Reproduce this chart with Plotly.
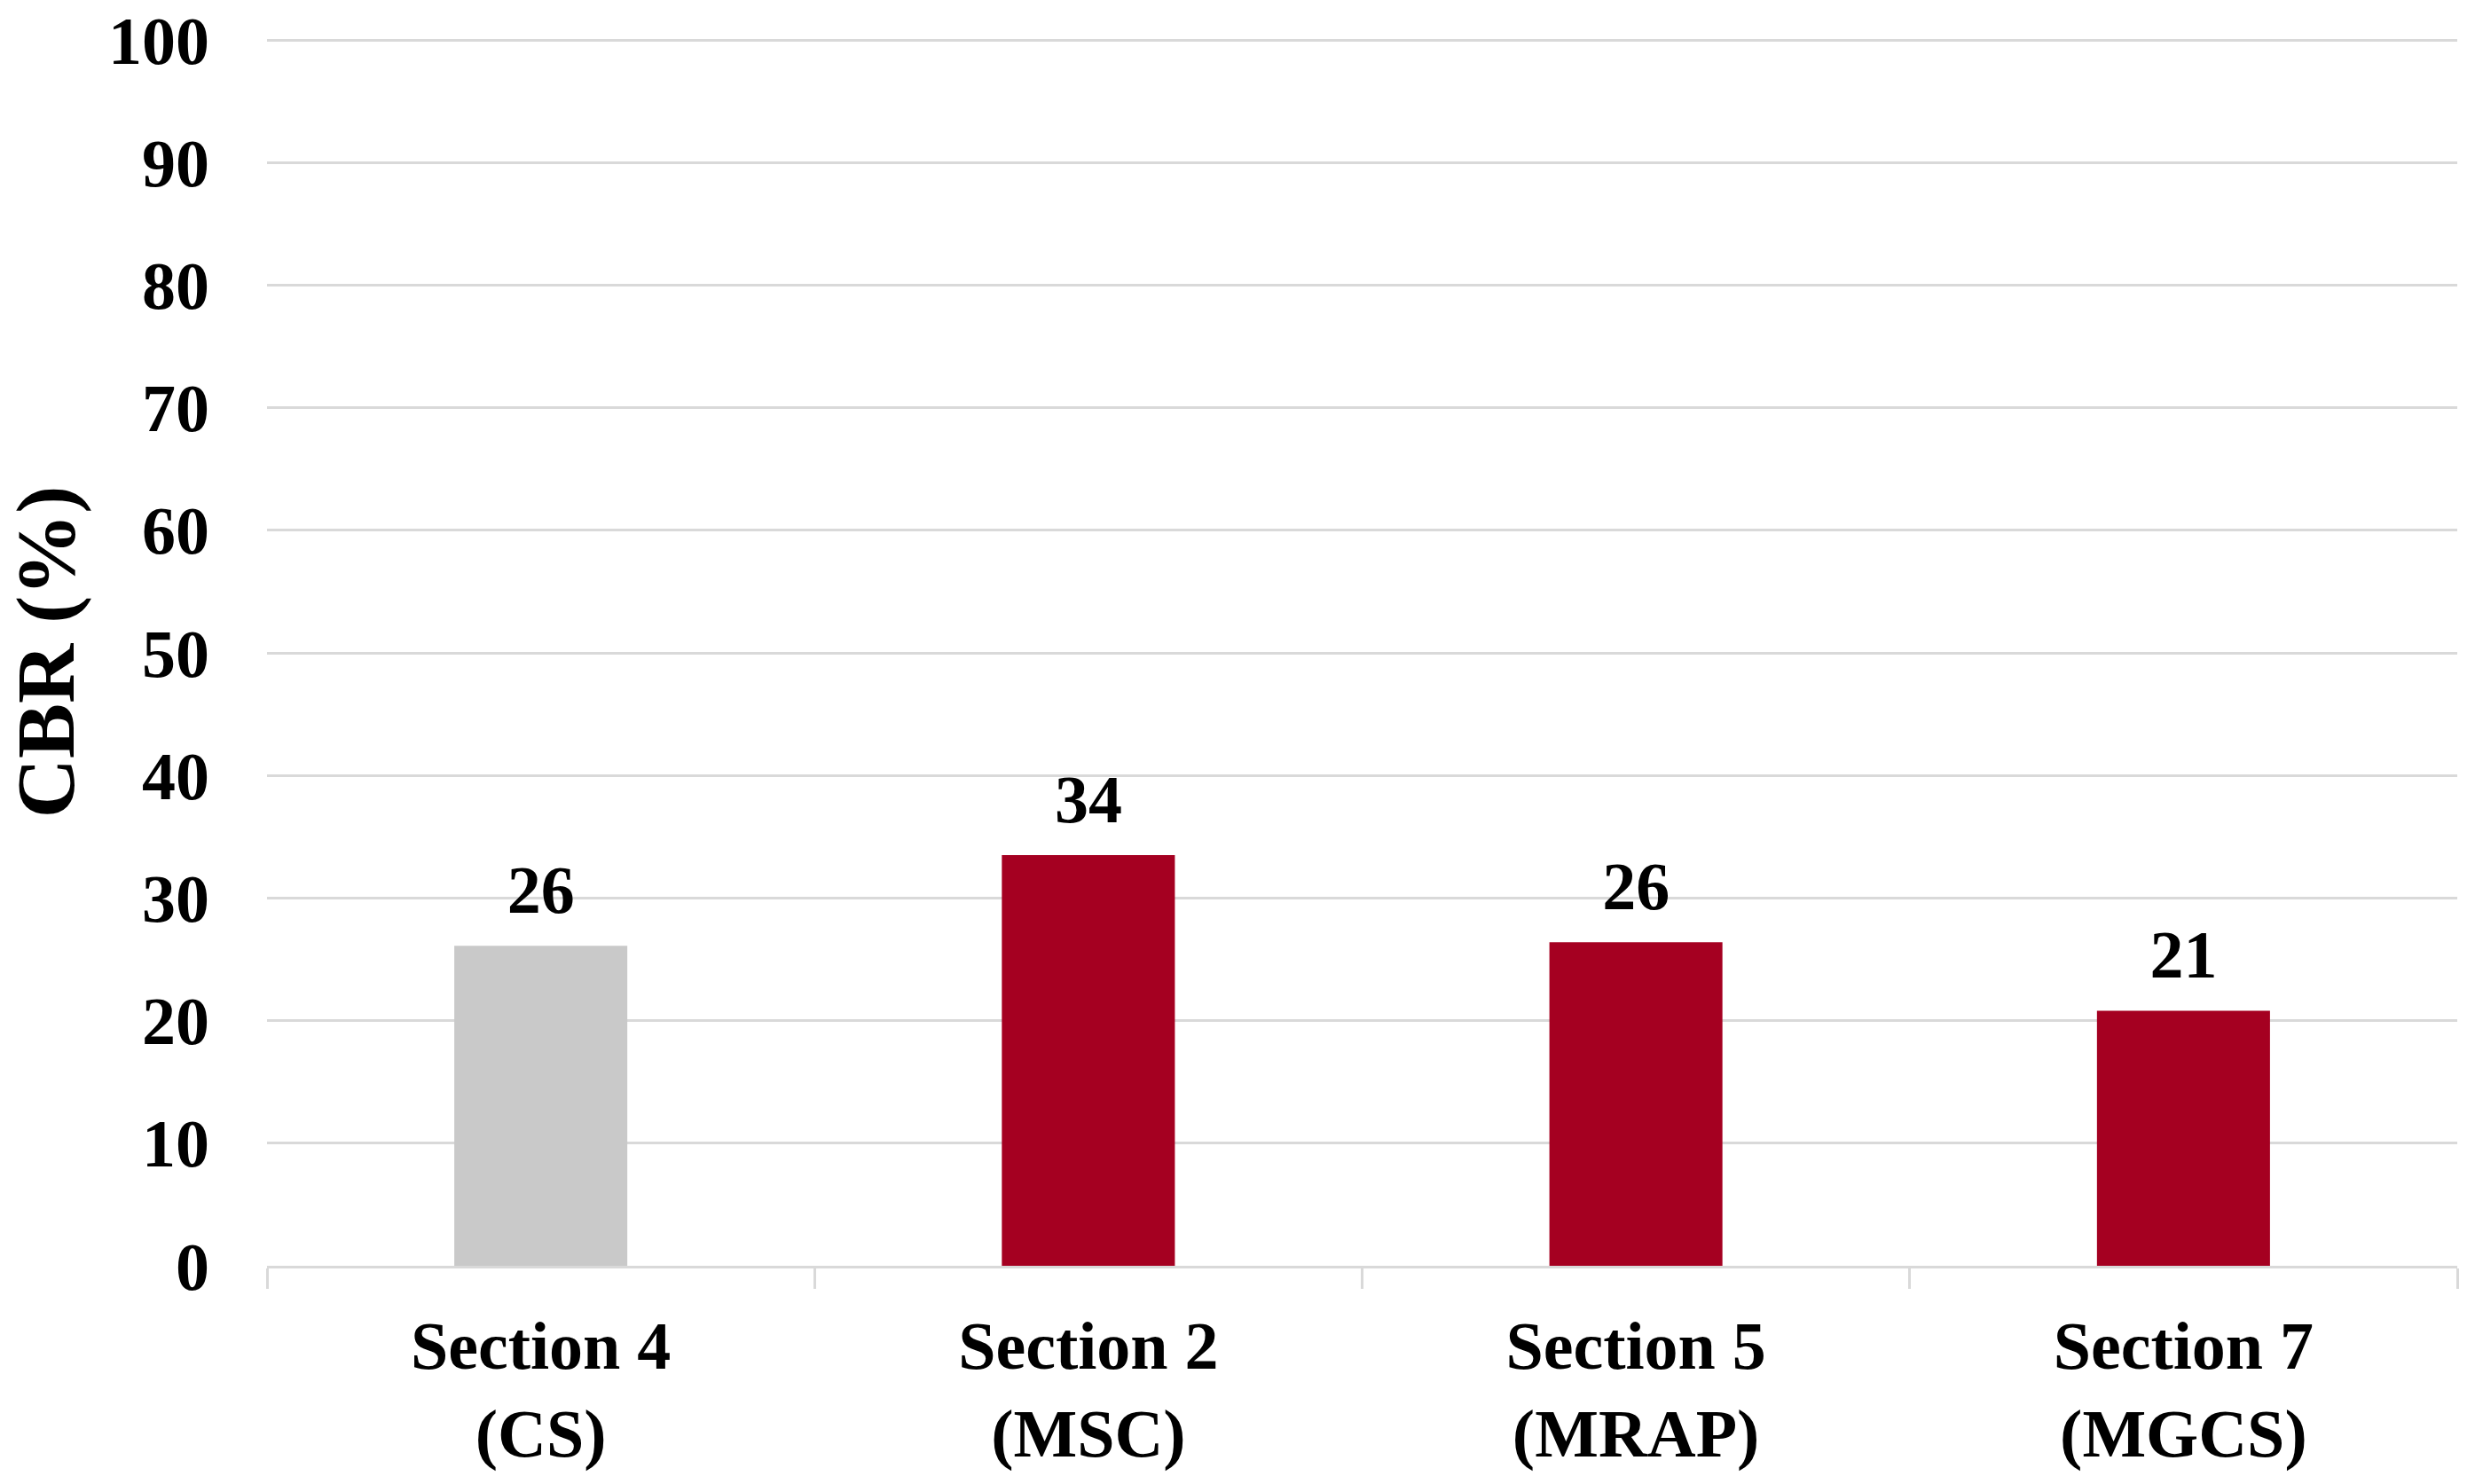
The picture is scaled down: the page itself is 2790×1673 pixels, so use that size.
import plotly.graph_objects as go

categories = ["Section 4<br>(CS)", "Section 2<br>(MSC)", "Section 5<br>(MRAP)", "Section 7<br>(MGCS)"]
cbr_values = [26.1, 33.5, 26.4, 20.8]
value_labels = ["26", "34", "26", "21"]
bar_colors = ["#C9C9C9", "#A50021", "#A50021", "#A50021"]
y_ticks = list(range(0, 101, 10))

FONT = "Liberation Serif"

fig = go.Figure()
fig.add_trace(go.Bar(
    x=categories,
    y=cbr_values,
    marker=dict(color=bar_colors, line=dict(width=0)),
    width=0.316,
    hoverinfo="skip",
))
fig.add_trace(go.Scatter(
    x=categories,
    y=cbr_values,
    mode="markers+text",
    text=value_labels,
    textposition="top center",
    textfont=dict(family=FONT, size=76, color="black", weight="bold"),
    marker=dict(size=28, opacity=0),
    cliponaxis=False,
    hoverinfo="skip",
))

fig.update_layout(
    width=2790,
    height=1673,
    margin=dict(l=301, r=20, t=43, b=246, autoexpand=False),
    paper_bgcolor="white",
    plot_bgcolor="white",
    showlegend=False,
    font=dict(family=FONT, size=76, color="black", weight="bold"),
    bargap=0.684,
)

fig.update_yaxes(
    range=[0, 100.15],
    tickvals=y_ticks,
    showgrid=True,
    gridcolor="#D9D9D9",
    gridwidth=3,
    zeroline=False,
    showline=False,
    ticks="",
    automargin=False,
    ticklabelstandoff=64,
    tickfont=dict(family=FONT, size=76, color="black", weight="bold"),
    title=dict(text="CBR (%)", font=dict(family=FONT, size=93, color="black", weight="bold"), standoff=20),
)

fig.update_xaxes(
    showline=True,
    linecolor="#D9D9D9",
    linewidth=3,
    ticks="outside",
    tickson="boundaries",
    ticklen=23,
    tickwidth=3,
    tickcolor="#D9D9D9",
    automargin=False,
    ticklabelstandoff=22,
    tickfont=dict(family=FONT, size=76, color="black", weight="bold"),
)

fig.write_html(
    "out.html",
    config={"displayModeBar": False, "staticPlot": True},
    post_script="document.body.style.margin='0px';document.body.style.overflow='hidden';",
)
